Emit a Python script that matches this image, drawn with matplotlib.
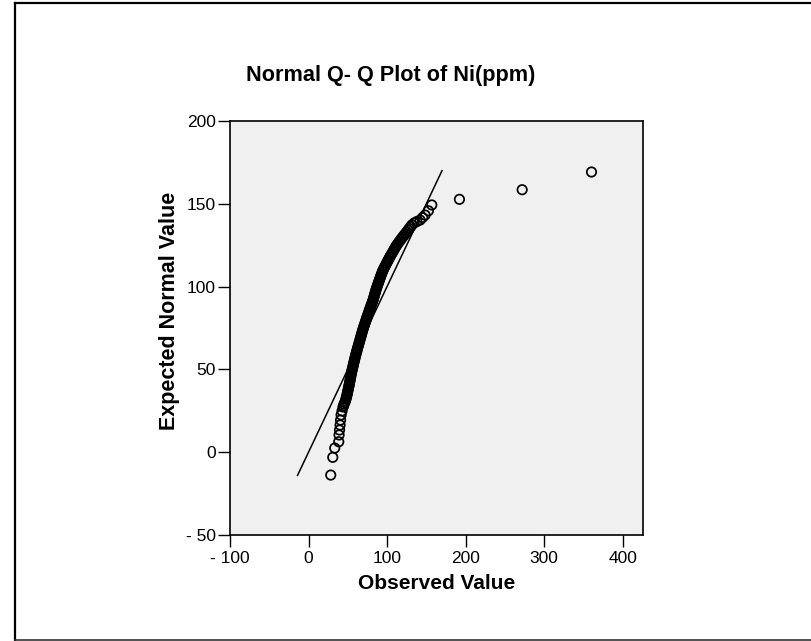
import matplotlib
matplotlib.use("Agg")
import matplotlib.pyplot as plt
from matplotlib.lines import Line2D

plt.rcParams['font.family'] = ['Liberation Sans', 'DejaVu Sans']

# observed Ni(ppm) values vs expected normal values
observed = [28.3, 30.9, 33.4,
            38.5, 38.9, 39.5, 40.2, 40.8, 41.5, 42.7, 44.0,
            44.5, 45.3, 46.2, 47.0, 47.6, 48.2, 48.7, 49.2, 49.6, 50.1,
            50.6, 51.0, 51.5, 51.9, 52.3, 52.7, 53.1, 53.5, 53.9, 54.3,
            54.8, 55.2, 55.7, 56.2, 56.7, 57.2, 57.7, 58.2, 58.7, 59.2,
            59.8, 60.3, 60.9, 61.5, 62.0, 62.6, 63.2, 63.8, 64.4, 65.0,
            65.6, 66.2, 66.8, 67.4, 68.0, 68.6, 69.2, 69.9, 70.6, 71.3,
            72.0, 72.7, 73.4, 74.1, 74.8, 75.6, 76.3, 77.0, 77.7, 78.5,
            79.2, 80.0, 80.8, 81.5, 82.3, 82.9, 83.5, 84.1, 84.7, 85.3,
            85.9, 86.6, 87.3, 88.0, 88.8, 89.5, 90.3, 91.0, 91.8, 92.5,
            93.3, 94.1, 95.0, 96.0, 97.1, 98.2, 99.3, 100.4, 101.5, 102.6,
            103.7, 104.9, 106.2, 107.4, 108.6, 109.8, 111.0, 112.3, 113.8, 115.3,
            116.9, 118.4, 120.0, 121.7, 123.4,
            125.2, 126.8, 128.3, 130.0, 131.6, 134.5, 138.0, 142.1, 145.3, 148.5,
            152.7, 157.0, 192.2, 272.1, 360.4]
expected = [-13.8, -3.1, 2.5,
            6.3, 10.4, 13.4, 16.4, 19.4, 22.5, 24.9, 27.3,
            28, 29, 30, 31, 32, 33, 34, 35, 36, 37,
            38, 39, 40, 41, 42, 43, 44, 45, 46, 47,
            48, 49, 50, 51, 52, 53, 54, 55, 56, 57,
            58, 59, 60, 61, 62, 63, 64, 65, 66, 67,
            68, 69, 70, 71, 72, 73, 74, 75, 76, 77,
            78, 79, 80, 81, 82, 83, 84, 85, 86, 87,
            88, 89, 90, 91, 92, 93, 94, 95, 96, 97,
            98, 99, 100, 101, 102, 103, 104, 105, 106, 107,
            108, 109, 110, 111, 112, 113, 114, 115, 116, 117,
            118, 119, 120, 121, 122, 123, 124, 125, 126, 127,
            128, 129, 130, 131, 132,
            133.1, 134.1, 135.1, 136.2, 137.2, 138.4, 139.3, 140.2, 141.7, 143.2,
            145.8, 149.3, 152.7, 158.5, 169.2]

# reference line endpoints (y = x)
line_x = [-14, 170]
line_y = [-14, 170]

x_ticks = [-100, 0, 100, 200, 300, 400]
x_tick_labels = ['- 100', '0', '100', '200', '300', '400']
y_ticks = [-50, 0, 50, 100, 150, 200]
y_tick_labels = ['- 50', '0', '50', '100', '150', '200']

fig = plt.figure(figsize=(8.12, 6.41), dpi=100)
ax = fig.add_axes([230 / 812, 1 - 535 / 641, 413 / 812, 414 / 641])
ax.set_facecolor('#f0f0f0')

ax.plot(line_x, line_y, color='black', lw=1.1)
ax.scatter(observed, expected, s=46, facecolors='none', edgecolors='black', linewidths=1.25, zorder=3)

ax.set_xlim(-100, 426)
ax.set_ylim(-50, 200)
ax.set_xticks(x_ticks)
ax.set_xticklabels(x_tick_labels)
ax.set_yticks(y_ticks)
ax.set_yticklabels(y_tick_labels)
ax.tick_params(direction='out', length=8.5, width=1.0, pad=1.5, labelsize=12.5, colors='black')
ax.tick_params(axis='x', pad=3)
for sp in ax.spines.values():
    sp.set_linewidth(1.2)
    sp.set_color('black')

ax.set_xlabel('Observed Value', fontsize=15, fontweight='bold', labelpad=6)
fig.text(170 / 812, 1 - 311 / 641, 'Expected Normal Value', rotation=90, fontsize=15.5,
         fontweight='bold', ha='center', va='center')
fig.text(391 / 812, 1 - 76 / 641, 'Normal Q- Q Plot of Ni(ppm)', fontsize=15.6,
         fontweight='bold', ha='center', va='center')

# outer frame
fig.add_artist(Line2D([15 / 812, 15 / 812], [0, 1 - 2.5 / 641], transform=fig.transFigure, color='black', lw=1.6))
fig.add_artist(Line2D([15 / 812, 1], [1 - 2.5 / 641, 1 - 2.5 / 641], transform=fig.transFigure, color='black', lw=1.6))
fig.add_artist(Line2D([15 / 812, 1], [0.8 / 641, 0.8 / 641], transform=fig.transFigure, color='#333333', lw=1.2))

fig.savefig('out.png', dpi=100)
